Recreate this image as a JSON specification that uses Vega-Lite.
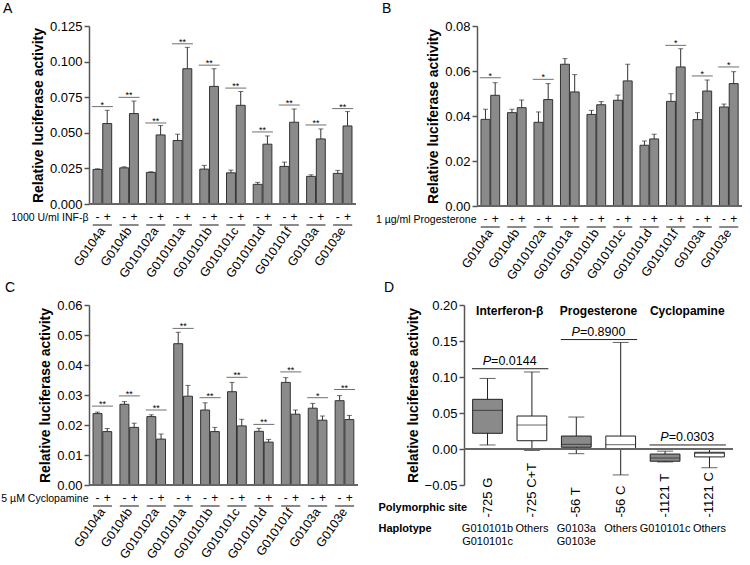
{
  "$schema": "https://vega.github.io/schema/vega-lite/v6.json",
  "background": "white",
  "padding": {"left": 0, "right": 0, "top": 2, "bottom": 0},
  "config": {
    "font": "Liberation Sans",
    "view": {"stroke": null},
    "axis": {"domainColor": "#555555", "domainWidth": 1.5, "tickColor": "#555555", "tickWidth": 1.5, "tickSize": 5, "labelColor": "#000000", "titleColor": "#000000", "labelFontSize": 13, "titleFontSize": 14, "titleFontWeight": "bold", "grid": false, "labelOverlap": false},
    "title": {"fontSize": 14, "fontWeight": "normal", "anchor": "start", "frame": "group", "color": "#000000", "offset": 0},
    "text": {"color": "#000000"}
  },
  "datasets": {
    "A": [
      {"g": "G0104a", "t": "-", "v": 0.0243, "e": 0.0247}, {"g": "G0104a", "t": "+", "v": 0.0565, "e": 0.0658},
      {"g": "G0104b", "t": "-", "v": 0.0254, "e": 0.0261}, {"g": "G0104b", "t": "+", "v": 0.0635, "e": 0.0723},
      {"g": "G010102a", "t": "-", "v": 0.0222, "e": 0.0226}, {"g": "G010102a", "t": "+", "v": 0.0485, "e": 0.0551},
      {"g": "G010101a", "t": "-", "v": 0.0446, "e": 0.049}, {"g": "G010101a", "t": "+", "v": 0.095, "e": 0.110},
      {"g": "G010101b", "t": "-", "v": 0.0245, "e": 0.0271}, {"g": "G010101b", "t": "+", "v": 0.0826, "e": 0.095},
      {"g": "G010101c", "t": "-", "v": 0.0219, "e": 0.0238}, {"g": "G010101c", "t": "+", "v": 0.0693, "e": 0.079},
      {"g": "G010101d", "t": "-", "v": 0.0138, "e": 0.0152}, {"g": "G010101d", "t": "+", "v": 0.042, "e": 0.0478},
      {"g": "G010101f", "t": "-", "v": 0.0264, "e": 0.0294}, {"g": "G010101f", "t": "+", "v": 0.0574, "e": 0.0667},
      {"g": "G0103a", "t": "-", "v": 0.0194, "e": 0.0205}, {"g": "G0103a", "t": "+", "v": 0.0457, "e": 0.0527},
      {"g": "G0103e", "t": "-", "v": 0.0215, "e": 0.0236}, {"g": "G0103e", "t": "+", "v": 0.0548, "e": 0.0649}
    ],
    "A_sig": [
      {"g": "G0104a", "s": 0.0684, "star": "*"}, {"g": "G0104b", "s": 0.0749, "star": "**"},
      {"g": "G010102a", "s": 0.0569, "star": "**"}, {"g": "G010101a", "s": 0.1125, "star": "**"},
      {"g": "G010101b", "s": 0.0975, "star": "**"}, {"g": "G010101c", "s": 0.0814, "star": "**"},
      {"g": "G010101d", "s": 0.0506, "star": "**"}, {"g": "G010101f", "s": 0.0695, "star": "**"},
      {"g": "G0103a", "s": 0.0555, "star": "**"}, {"g": "G0103e", "s": 0.067, "star": "**"}
    ],
    "B": [
      {"g": "G0104a", "t": "-", "v": 0.0385, "e": 0.043}, {"g": "G0104a", "t": "+", "v": 0.0492, "e": 0.0548},
      {"g": "G0104b", "t": "-", "v": 0.0415, "e": 0.043}, {"g": "G0104b", "t": "+", "v": 0.0437, "e": 0.0471},
      {"g": "G010102a", "t": "-", "v": 0.0372, "e": 0.0418}, {"g": "G010102a", "t": "+", "v": 0.0473, "e": 0.0544},
      {"g": "G010101a", "t": "-", "v": 0.063, "e": 0.0655}, {"g": "G010101a", "t": "+", "v": 0.0507, "e": 0.0584},
      {"g": "G010101b", "t": "-", "v": 0.0407, "e": 0.0425}, {"g": "G010101b", "t": "+", "v": 0.045, "e": 0.0464},
      {"g": "G010101c", "t": "-", "v": 0.047, "e": 0.0493}, {"g": "G010101c", "t": "+", "v": 0.0556, "e": 0.063},
      {"g": "G010101d", "t": "-", "v": 0.027, "e": 0.0289}, {"g": "G010101d", "t": "+", "v": 0.0298, "e": 0.0319},
      {"g": "G010101f", "t": "-", "v": 0.0465, "e": 0.0499}, {"g": "G010101f", "t": "+", "v": 0.0618, "e": 0.0699},
      {"g": "G0103a", "t": "-", "v": 0.0384, "e": 0.0415}, {"g": "G0103a", "t": "+", "v": 0.0511, "e": 0.056},
      {"g": "G0103e", "t": "-", "v": 0.044, "e": 0.0453}, {"g": "G0103e", "t": "+", "v": 0.0544, "e": 0.0597}
    ],
    "B_sig": [
      {"g": "G0104a", "s": 0.057, "star": "*"}, {"g": "G010102a", "s": 0.0563, "star": "*"},
      {"g": "G010101f", "s": 0.0714, "star": "*"}, {"g": "G0103a", "s": 0.0578, "star": "*"},
      {"g": "G0103e", "s": 0.0618, "star": "*"}
    ],
    "C": [
      {"g": "G0104a", "t": "-", "v": 0.0238, "e": 0.0243}, {"g": "G0104a", "t": "+", "v": 0.0178, "e": 0.0188},
      {"g": "G0104b", "t": "-", "v": 0.0269, "e": 0.0278}, {"g": "G0104b", "t": "+", "v": 0.0192, "e": 0.0206},
      {"g": "G010102a", "t": "-", "v": 0.0228, "e": 0.0234}, {"g": "G010102a", "t": "+", "v": 0.0153, "e": 0.017},
      {"g": "G010101a", "t": "-", "v": 0.0471, "e": 0.0509}, {"g": "G010101a", "t": "+", "v": 0.0296, "e": 0.0332},
      {"g": "G010101b", "t": "-", "v": 0.025, "e": 0.0274}, {"g": "G010101b", "t": "+", "v": 0.0178, "e": 0.0192},
      {"g": "G010101c", "t": "-", "v": 0.0311, "e": 0.0342}, {"g": "G010101c", "t": "+", "v": 0.0197, "e": 0.0219},
      {"g": "G010101d", "t": "-", "v": 0.0179, "e": 0.0189}, {"g": "G010101d", "t": "+", "v": 0.0143, "e": 0.0152},
      {"g": "G010101f", "t": "-", "v": 0.0342, "e": 0.0358}, {"g": "G010101f", "t": "+", "v": 0.0236, "e": 0.025},
      {"g": "G0103a", "t": "-", "v": 0.0256, "e": 0.0272}, {"g": "G0103a", "t": "+", "v": 0.0216, "e": 0.023},
      {"g": "G0103e", "t": "-", "v": 0.0281, "e": 0.0298}, {"g": "G0103e", "t": "+", "v": 0.0218, "e": 0.0232}
    ],
    "C_sig": [
      {"g": "G0104a", "s": 0.0263, "star": "**"}, {"g": "G0104b", "s": 0.0297, "star": "**"},
      {"g": "G010102a", "s": 0.025, "star": "**"}, {"g": "G010101a", "s": 0.0522, "star": "**"},
      {"g": "G010101b", "s": 0.0291, "star": "**"}, {"g": "G010101c", "s": 0.0359, "star": "**"},
      {"g": "G010101d", "s": 0.0202, "star": "**"}, {"g": "G010101f", "s": 0.0377, "star": "**"},
      {"g": "G0103a", "s": 0.0291, "star": "*"}, {"g": "G0103e", "s": 0.0318, "star": "**"}
    ],
    "D": [
      {"site": "-725 G", "hap": "G010101b\nG010101c", "min": 0.0056, "q1": 0.0218, "med": 0.0537, "q3": 0.069, "max": 0.098},
      {"site": "-725 C+T", "hap": "Others", "min": -0.002, "q1": 0.0115, "med": 0.0333, "q3": 0.0458, "max": 0.107},
      {"site": "-56 T", "hap": "G0103a\nG0103e", "min": -0.0065, "q1": 0.0024, "med": 0.0065, "q3": 0.018, "max": 0.0444},
      {"site": "-56 C", "hap": "Others", "min": -0.036, "q1": 0.0, "med": 0.006, "q3": 0.018, "max": 0.148},
      {"site": "-1121 T", "hap": "G010101c", "min": -0.018, "q1": -0.017, "med": -0.0125, "q3": -0.007, "max": -0.003},
      {"site": "-1121 C", "hap": "Others", "min": -0.026, "q1": -0.011, "med": -0.006, "q3": -0.0046, "max": 0.0}
    ],
    "D_pairs": [
      {"site": "-725 G", "site2": "-725 C+T", "treat": "Interferon-β", "line": 0.1115, "p": "=0.0144"},
      {"site": "-56 T", "site2": "-56 C", "treat": "Progesterone", "line": 0.152, "p": "=0.8900"},
      {"site": "-1121 T", "site2": "-1121 C", "treat": "Cyclopamine", "line": 0.0056, "p": "=0.0303"}
    ]
  },
  "spacing": -1,
  "vconcat": [
    {
      "spacing": 18,
      "hconcat": [
        {
          "title": {"text": "A", "dx": -86},
          "width": 267, "height": 178,
          "layer": [
            {"data": {"name": "A"}, "mark": {"type": "bar", "fill": "#8a8a8a", "stroke": "#333333", "strokeWidth": 1},
             "encoding": {
               "x": {"field": "g", "type": "nominal", "sort": ["G0104a","G0104b","G010102a","G010101a","G010101b","G010101c","G010101d","G010101f","G0103a","G0103e"], "scale": {"paddingInner": 0.3, "paddingOuter": 0.15},
                     "axis": {"title": "1000 U/ml INF-β", "titleX": -1, "titleY": 13, "titleAlign": "right", "titleBaseline": "middle", "titleAngle": 0, "titleFontSize": 10.5, "titleFontWeight": "normal", "domain": false, "ticks": false, "labelAngle": -55, "labelAlign": "right", "labelBaseline": "middle", "labelPadding": 24, "labelFontSize": 12.5, "labelOverlap": false}},
               "xOffset": {"field": "t", "type": "nominal", "sort": ["-", "+"], "scale": {"paddingInner": 0.08}},
               "y": {"field": "v", "type": "quantitative", "scale": {"domain": [0, 0.125], "nice": false}, "axis": {"title": "Relative luciferase activity", "values": [0, 0.025, 0.05, 0.075, 0.1, 0.125], "tickCount": 20, "format": ".3f", "labelOverlap": false}}
             }},
            {"data": {"name": "A"}, "mark": {"type": "rule", "stroke": "#333333", "strokeWidth": 1},
             "encoding": {"x": {"field": "g", "type": "nominal", "sort": ["G0104a","G0104b","G010102a","G010101a","G010101b","G010101c","G010101d","G010101f","G0103a","G0103e"]}, "xOffset": {"field": "t", "type": "nominal", "sort": ["-", "+"]}, "y": {"field": "v", "type": "quantitative"}, "y2": {"field": "e"}}},
            {"data": {"name": "A"}, "mark": {"type": "tick", "orient": "horizontal", "size": 5, "thickness": 1, "color": "#333333"},
             "encoding": {"x": {"field": "g", "type": "nominal", "sort": ["G0104a","G0104b","G010102a","G010101a","G010101b","G010101c","G010101d","G010101f","G0103a","G0103e"]}, "xOffset": {"field": "t", "type": "nominal", "sort": ["-", "+"]}, "y": {"field": "e", "type": "quantitative"}}},
            {"data": {"values": [{}]}, "mark": {"type": "rule", "stroke": "#666666", "strokeWidth": 2}, "encoding": {"y": {"datum": 0}}},
            {"data": {"name": "A"}, "mark": {"type": "tick", "orient": "horizontal", "size": 19, "thickness": 1, "color": "#333333", "yOffset": 21},
             "encoding": {"x": {"field": "g", "type": "nominal", "sort": ["G0104a","G0104b","G010102a","G010101a","G010101b","G010101c","G010101d","G010101f","G0103a","G0103e"]}, "y": {"datum": 0}}},
            {"data": {"name": "A"}, "mark": {"type": "text", "fontSize": 12, "dy": 13, "baseline": "middle"},
             "encoding": {"x": {"field": "g", "type": "nominal", "sort": ["G0104a","G0104b","G010102a","G010101a","G010101b","G010101c","G010101d","G010101f","G0103a","G0103e"]}, "xOffset": {"field": "t", "type": "nominal", "sort": ["-", "+"]}, "y": {"datum": 0}, "text": {"field": "t"}}},
            {"data": {"name": "A_sig"}, "mark": {"type": "tick", "orient": "horizontal", "size": 21, "thickness": 1, "color": "#333333"},
             "encoding": {"x": {"field": "g", "type": "nominal", "sort": ["G0104a","G0104b","G010102a","G010101a","G010101b","G010101c","G010101d","G010101f","G0103a","G0103e"]}, "y": {"field": "s", "type": "quantitative"}}},
            {"data": {"name": "A_sig"}, "mark": {"type": "text", "fontSize": 9, "baseline": "alphabetic", "dy": 1},
             "encoding": {"x": {"field": "g", "type": "nominal", "sort": ["G0104a","G0104b","G010102a","G010101a","G010101b","G010101c","G010101d","G010101f","G0103a","G0103e"]}, "y": {"field": "s", "type": "quantitative"}, "text": {"field": "star"}}}
          ]
        },
        {
          "title": {"text": "B", "dx": -95},
          "width": 265, "height": 180,
          "layer": [
            {"data": {"name": "B"}, "mark": {"type": "bar", "fill": "#8a8a8a", "stroke": "#333333", "strokeWidth": 1},
             "encoding": {
               "x": {"field": "g", "type": "nominal", "sort": ["G0104a","G0104b","G010102a","G010101a","G010101b","G010101c","G010101d","G010101f","G0103a","G0103e"], "scale": {"paddingInner": 0.3, "paddingOuter": 0.15},
                     "axis": {"title": "1 µg/ml Progesterone", "titleX": -1, "titleY": 13, "titleAlign": "right", "titleBaseline": "middle", "titleAngle": 0, "titleFontSize": 10.5, "titleFontWeight": "normal", "domain": false, "ticks": false, "labelAngle": -55, "labelAlign": "right", "labelBaseline": "middle", "labelPadding": 24, "labelFontSize": 12.5, "labelOverlap": false}},
               "xOffset": {"field": "t", "type": "nominal", "sort": ["-", "+"], "scale": {"paddingInner": 0.08}},
               "y": {"field": "v", "type": "quantitative", "scale": {"domain": [0, 0.08], "nice": false}, "axis": {"title": "Relative luciferase activity", "values": [0, 0.02, 0.04, 0.06, 0.08], "tickCount": 20, "format": ".2f", "labelOverlap": false}}
             }},
            {"data": {"name": "B"}, "mark": {"type": "rule", "stroke": "#333333", "strokeWidth": 1},
             "encoding": {"x": {"field": "g", "type": "nominal", "sort": ["G0104a","G0104b","G010102a","G010101a","G010101b","G010101c","G010101d","G010101f","G0103a","G0103e"]}, "xOffset": {"field": "t", "type": "nominal", "sort": ["-", "+"]}, "y": {"field": "v", "type": "quantitative"}, "y2": {"field": "e"}}},
            {"data": {"name": "B"}, "mark": {"type": "tick", "orient": "horizontal", "size": 5, "thickness": 1, "color": "#333333"},
             "encoding": {"x": {"field": "g", "type": "nominal", "sort": ["G0104a","G0104b","G010102a","G010101a","G010101b","G010101c","G010101d","G010101f","G0103a","G0103e"]}, "xOffset": {"field": "t", "type": "nominal", "sort": ["-", "+"]}, "y": {"field": "e", "type": "quantitative"}}},
            {"data": {"values": [{}]}, "mark": {"type": "rule", "stroke": "#666666", "strokeWidth": 2}, "encoding": {"y": {"datum": 0}}},
            {"data": {"name": "B"}, "mark": {"type": "tick", "orient": "horizontal", "size": 19, "thickness": 1, "color": "#333333", "yOffset": 21},
             "encoding": {"x": {"field": "g", "type": "nominal", "sort": ["G0104a","G0104b","G010102a","G010101a","G010101b","G010101c","G010101d","G010101f","G0103a","G0103e"]}, "y": {"datum": 0}}},
            {"data": {"name": "B"}, "mark": {"type": "text", "fontSize": 12, "dy": 13, "baseline": "middle"},
             "encoding": {"x": {"field": "g", "type": "nominal", "sort": ["G0104a","G0104b","G010102a","G010101a","G010101b","G010101c","G010101d","G010101f","G0103a","G0103e"]}, "xOffset": {"field": "t", "type": "nominal", "sort": ["-", "+"]}, "y": {"datum": 0}, "text": {"field": "t"}}},
            {"data": {"name": "B_sig"}, "mark": {"type": "tick", "orient": "horizontal", "size": 21, "thickness": 1, "color": "#333333"},
             "encoding": {"x": {"field": "g", "type": "nominal", "sort": ["G0104a","G0104b","G010102a","G010101a","G010101b","G010101c","G010101d","G010101f","G0103a","G0103e"]}, "y": {"field": "s", "type": "quantitative"}}},
            {"data": {"name": "B_sig"}, "mark": {"type": "text", "fontSize": 9, "baseline": "alphabetic", "dy": 1},
             "encoding": {"x": {"field": "g", "type": "nominal", "sort": ["G0104a","G0104b","G010102a","G010101a","G010101b","G010101c","G010101d","G010101f","G0103a","G0103e"]}, "y": {"field": "s", "type": "quantitative"}, "text": {"field": "star"}}}
          ]
        }
      ]
    },
    {
      "spacing": 19,
      "hconcat": [
        {
          "title": {"text": "C", "dx": -84},
          "width": 269, "height": 180,
          "layer": [
            {"data": {"name": "C"}, "mark": {"type": "bar", "fill": "#8a8a8a", "stroke": "#333333", "strokeWidth": 1},
             "encoding": {
               "x": {"field": "g", "type": "nominal", "sort": ["G0104a","G0104b","G010102a","G010101a","G010101b","G010101c","G010101d","G010101f","G0103a","G0103e"], "scale": {"paddingInner": 0.3, "paddingOuter": 0.15},
                     "axis": {"title": "5 µM Cyclopamine", "titleX": -1, "titleY": 13, "titleAlign": "right", "titleBaseline": "middle", "titleAngle": 0, "titleFontSize": 10.5, "titleFontWeight": "normal", "domain": false, "ticks": false, "labelAngle": -55, "labelAlign": "right", "labelBaseline": "middle", "labelPadding": 24, "labelFontSize": 12.5, "labelOverlap": false}},
               "xOffset": {"field": "t", "type": "nominal", "sort": ["-", "+"], "scale": {"paddingInner": 0.08}},
               "y": {"field": "v", "type": "quantitative", "scale": {"domain": [0, 0.06], "nice": false}, "axis": {"title": "Relative luciferase activity", "values": [0, 0.01, 0.02, 0.03, 0.04, 0.05, 0.06], "tickCount": 20, "format": ".2f", "labelOverlap": false}}
             }},
            {"data": {"name": "C"}, "mark": {"type": "rule", "stroke": "#333333", "strokeWidth": 1},
             "encoding": {"x": {"field": "g", "type": "nominal", "sort": ["G0104a","G0104b","G010102a","G010101a","G010101b","G010101c","G010101d","G010101f","G0103a","G0103e"]}, "xOffset": {"field": "t", "type": "nominal", "sort": ["-", "+"]}, "y": {"field": "v", "type": "quantitative"}, "y2": {"field": "e"}}},
            {"data": {"name": "C"}, "mark": {"type": "tick", "orient": "horizontal", "size": 5, "thickness": 1, "color": "#333333"},
             "encoding": {"x": {"field": "g", "type": "nominal", "sort": ["G0104a","G0104b","G010102a","G010101a","G010101b","G010101c","G010101d","G010101f","G0103a","G0103e"]}, "xOffset": {"field": "t", "type": "nominal", "sort": ["-", "+"]}, "y": {"field": "e", "type": "quantitative"}}},
            {"data": {"values": [{}]}, "mark": {"type": "rule", "stroke": "#666666", "strokeWidth": 2}, "encoding": {"y": {"datum": 0}}},
            {"data": {"name": "C"}, "mark": {"type": "tick", "orient": "horizontal", "size": 19, "thickness": 1, "color": "#333333", "yOffset": 21},
             "encoding": {"x": {"field": "g", "type": "nominal", "sort": ["G0104a","G0104b","G010102a","G010101a","G010101b","G010101c","G010101d","G010101f","G0103a","G0103e"]}, "y": {"datum": 0}}},
            {"data": {"name": "C"}, "mark": {"type": "text", "fontSize": 12, "dy": 13, "baseline": "middle"},
             "encoding": {"x": {"field": "g", "type": "nominal", "sort": ["G0104a","G0104b","G010102a","G010101a","G010101b","G010101c","G010101d","G010101f","G0103a","G0103e"]}, "xOffset": {"field": "t", "type": "nominal", "sort": ["-", "+"]}, "y": {"datum": 0}, "text": {"field": "t"}}},
            {"data": {"name": "C_sig"}, "mark": {"type": "tick", "orient": "horizontal", "size": 21, "thickness": 1, "color": "#333333"},
             "encoding": {"x": {"field": "g", "type": "nominal", "sort": ["G0104a","G0104b","G010102a","G010101a","G010101b","G010101c","G010101d","G010101f","G0103a","G0103e"]}, "y": {"field": "s", "type": "quantitative"}}},
            {"data": {"name": "C_sig"}, "mark": {"type": "text", "fontSize": 9, "baseline": "alphabetic", "dy": 1},
             "encoding": {"x": {"field": "g", "type": "nominal", "sort": ["G0104a","G0104b","G010102a","G010101a","G010101b","G010101c","G010101d","G010101f","G0103a","G0103e"]}, "y": {"field": "s", "type": "quantitative"}, "text": {"field": "star"}}}
          ]
        },
        {
          "title": {"text": "D", "dx": -80},
          "width": 269, "height": 180,
          "layer": [
            {"data": {"name": "D"}, "mark": {"type": "rule", "stroke": "#222222", "strokeWidth": 1},
             "encoding": {"x": {"field": "site", "type": "nominal", "sort": ["-725 G","-725 C+T","-56 T","-56 C","-1121 T","-1121 C"]}, "y": {"field": "min", "type": "quantitative"}, "y2": {"field": "max"}}},
            {"data": {"name": "D"}, "mark": {"type": "bar", "stroke": "#222222", "strokeWidth": 1, "width": {"band": 0.67}},
             "encoding": {
               "x": {"field": "site", "type": "nominal", "sort": ["-725 G","-725 C+T","-56 T","-56 C","-1121 T","-1121 C"], "scale": {"paddingInner": 0, "paddingOuter": 0.03},
                     "axis": {"title": ["Polymorphic site", "Haplotype"], "titleX": -86, "titleY": 22, "titleAlign": "left", "titleBaseline": "middle", "titleAngle": 0, "titleFontSize": 11, "titleFontWeight": "bold", "titleLineHeight": 21, "domain": false, "ticks": false, "labelAngle": -90, "labelAlign": "left", "labelBaseline": "middle", "labelPadding": 32, "labelFontSize": 13, "labelOverlap": false}},
               "y": {"field": "q1", "type": "quantitative", "scale": {"domain": [-0.05, 0.2], "nice": false, "zero": false}, "axis": {"title": "Relative luciferase activity", "values": [-0.05, 0, 0.05, 0.1, 0.15, 0.2], "tickCount": 20, "format": ".2f", "labelOverlap": false}},
               "y2": {"field": "q3"},
               "fill": {"condition": {"test": "datum.hap === 'Others'", "value": "#ffffff"}, "value": "#8a8a8a"}
             }},
            {"data": {"name": "D"}, "mark": {"type": "tick", "orient": "horizontal", "size": 30, "thickness": 1, "color": "#222222"},
             "encoding": {"x": {"field": "site", "type": "nominal", "sort": ["-725 G","-725 C+T","-56 T","-56 C","-1121 T","-1121 C"]}, "y": {"field": "med", "type": "quantitative"}}},
            {"data": {"name": "D"}, "mark": {"type": "tick", "orient": "horizontal", "size": 16, "thickness": 1, "color": "#222222"},
             "encoding": {"x": {"field": "site", "type": "nominal", "sort": ["-725 G","-725 C+T","-56 T","-56 C","-1121 T","-1121 C"]}, "y": {"field": "max", "type": "quantitative"}}},
            {"data": {"name": "D"}, "mark": {"type": "tick", "orient": "horizontal", "size": 16, "thickness": 1, "color": "#222222"},
             "encoding": {"x": {"field": "site", "type": "nominal", "sort": ["-725 G","-725 C+T","-56 T","-56 C","-1121 T","-1121 C"]}, "y": {"field": "min", "type": "quantitative"}}},
            {"data": {"values": [{}]}, "mark": {"type": "rule", "stroke": "#666666", "strokeWidth": 2}, "encoding": {"y": {"datum": 0}}},
            {"data": {"name": "D"}, "mark": {"type": "text", "fontSize": 11, "baseline": "top", "lineBreak": "\n", "lineHeight": 13},
             "encoding": {"x": {"field": "site", "type": "nominal", "sort": ["-725 G","-725 C+T","-56 T","-56 C","-1121 T","-1121 C"]}, "y": {"datum": -0.103}, "text": {"field": "hap"}}},
            {"data": {"name": "D_pairs"}, "mark": {"type": "text", "fontSize": 12, "fontWeight": "bold", "baseline": "middle"},
             "encoding": {"x": {"field": "site", "type": "nominal", "sort": ["-725 G","-725 C+T","-56 T","-56 C","-1121 T","-1121 C"], "bandPosition": 1}, "y": {"datum": 0.192}, "text": {"field": "treat"}}},
            {"data": {"name": "D_pairs"}, "mark": {"type": "rule", "stroke": "#222222", "strokeWidth": 1},
             "encoding": {"x": {"field": "site", "type": "nominal", "sort": ["-725 G","-725 C+T","-56 T","-56 C","-1121 T","-1121 C"], "bandPosition": 0.15}, "x2": {"field": "site2", "bandPosition": 0.87}, "y": {"field": "line", "type": "quantitative"}}},
            {"data": {"name": "D_pairs"}, "mark": {"type": "text", "fontSize": 12.5, "fontStyle": "italic", "align": "right", "baseline": "middle", "dx": -18.6, "dy": -8},
             "encoding": {"x": {"field": "site", "type": "nominal", "sort": ["-725 G","-725 C+T","-56 T","-56 C","-1121 T","-1121 C"], "bandPosition": 1}, "y": {"field": "line", "type": "quantitative"}, "text": {"value": "P"}}},
            {"data": {"name": "D_pairs"}, "mark": {"type": "text", "fontSize": 12.5, "align": "left", "baseline": "middle", "dx": -18.6, "dy": -8},
             "encoding": {"x": {"field": "site", "type": "nominal", "sort": ["-725 G","-725 C+T","-56 T","-56 C","-1121 T","-1121 C"], "bandPosition": 1}, "y": {"field": "line", "type": "quantitative"}, "text": {"field": "p"}}}
          ]
        }
      ]
    }
  ]
}
